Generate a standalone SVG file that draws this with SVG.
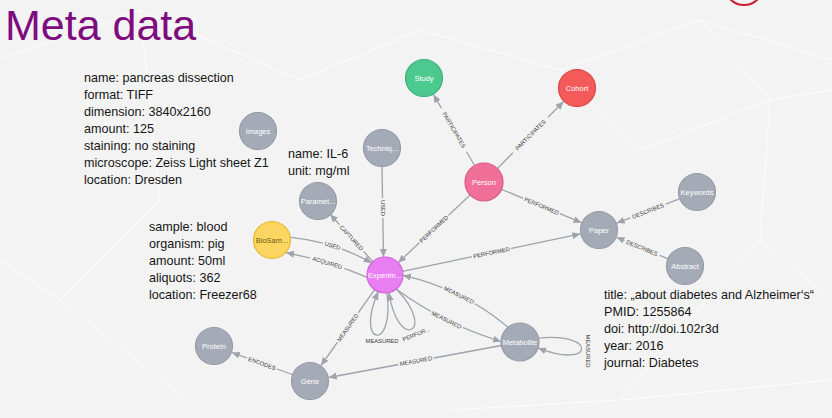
<svg xmlns="http://www.w3.org/2000/svg" width="832" height="418" viewBox="0 0 832 418">
<defs>
<marker id="arr" markerUnits="userSpaceOnUse" markerWidth="9" markerHeight="8" refX="8" refY="3.5" orient="auto">
<path d="M0,0 L8,3.5 L0,7 z" fill="#9EA3AC"/>
</marker>
<style>
.bg{fill:#F3F3F3}
.deco{stroke:#FFFFFF;stroke-width:1;opacity:0.8;fill:none}
.title{font-family:"Liberation Sans",Arial,sans-serif;font-size:43px;fill:#7E0C7E}
.info{font-family:"Liberation Sans",Arial,sans-serif;font-size:12.6px;fill:#151515}
.e{stroke:#9EA3AC;stroke-width:1.3;fill:none;marker-end:url(#arr)}
.lb{fill:#F3F3F3}
.el{font-family:"Liberation Sans",Arial,sans-serif;font-size:5.8px;fill:#3A3A3A;text-anchor:middle}
.n{fill:#A5ABB6;stroke:#959CA8;stroke-width:1.2}
.nt{font-family:"Liberation Sans",Arial,sans-serif;font-size:7.5px;fill:#FFFFFF;text-anchor:middle}
</style>
</defs>
<rect class="bg" x="0" y="0" width="832" height="418"/>
<g id="background">
<path class="deco" d="M0,60 L140,10 L300,80 L420,30 L560,70 L700,20 L832,60"/>
<path class="deco" d="M140,10 L160,200 L60,300 L0,260"/>
<path class="deco" d="M700,20 L770,100 L832,90 M770,100 L760,240 L832,300 M560,70 L640,150 L770,100"/>
<path class="deco" d="M60,300 L200,410 M620,400 L760,240 M450,410 L620,400 L832,380"/>
<circle cx="744" cy="-14" r="19" fill="none" stroke="#C8202E" stroke-width="2"/>
</g>
<text class="title" x="5" y="40">Meta data</text>
<g id="info-images">
<text class="info" x="84" y="82">name: pancreas dissection</text>
<text class="info" x="84" y="99">format: TIFF</text>
<text class="info" x="84" y="116">dimension: 3840x2160</text>
<text class="info" x="84" y="133">amount: 125</text>
<text class="info" x="84" y="150">staining: no staining</text>
<text class="info" x="84" y="167">microscope: Zeiss Light sheet Z1</text>
<text class="info" x="84" y="184">location: Dresden</text>
</g>
<g id="info-parameter">
<text class="info" x="288" y="158">name: IL-6</text>
<text class="info" x="288" y="175">unit: mg/ml</text>
</g>
<g id="info-biosample">
<text class="info" x="149" y="231">sample: blood</text>
<text class="info" x="149" y="248">organism: pig</text>
<text class="info" x="149" y="265">amount: 50ml</text>
<text class="info" x="149" y="282">aliquots: 362</text>
<text class="info" x="149" y="299">location: Freezer68</text>
</g>
<g id="info-paper">
<text class="info" x="604" y="299">title: „about diabetes and Alzheimer‘s“</text>
<text class="info" x="604" y="316">PMID: 1255864</text>
<text class="info" x="604" y="333">doi: http://doi.102r3d</text>
<text class="info" x="604" y="350">year: 2016</text>
<text class="info" x="604" y="367">journal: Diabetes</text>
</g>
<g id="connectors">
<line class="e" x1="474.5" y1="165.5" x2="433.5" y2="94.5"/>
<g transform="translate(454,130) rotate(60)"><rect class="lb" x="-25" y="-4" width="50" height="8"/><text class="el" y="2">PARTICIPATES</text></g>
<line class="e" x1="497.4" y1="168.5" x2="563.6" y2="101.5"/>
<g transform="translate(530.5,135) rotate(-45.3)"><rect class="lb" x="-25" y="-4" width="50" height="8"/><text class="el" y="2">PARTICIPATES</text></g>
<line class="e" x1="501.5" y1="189.3" x2="581.5" y2="222.7"/>
<g transform="translate(541.5,206) rotate(22.7)"><rect class="lb" x="-20" y="-4" width="40" height="8"/><text class="el" y="2">PERFORMED</text></g>
<line class="e" x1="470.1" y1="195" x2="398.1" y2="262.7"/>
<g transform="translate(434,229) rotate(-43.2)"><rect class="lb" x="-20" y="-4" width="40" height="8"/><text class="el" y="2">PERFORMED</text></g>
<line class="e" x1="382" y1="167" x2="383.5" y2="257"/>
<g transform="translate(382.5,208) rotate(90)"><rect class="lb" x="-10" y="-4" width="20" height="8"/><text class="el" y="2">USED</text></g>
<line class="e" x1="372.9" y1="261.7" x2="330.1" y2="214.3"/>
<g transform="translate(351.5,238) rotate(47.8)"><rect class="lb" x="-18" y="-4" width="36" height="8"/><text class="el" y="2">CAPTURED</text></g>
<path class="e" d="M290.8,237.4 Q334,241.5 371.7,262.9"/>
<g transform="translate(332.6,245.8) rotate(17)"><rect class="lb" x="-10" y="-4" width="20" height="8"/><text class="el" y="2">USED</text></g>
<path class="e" d="M367.2,277.4 Q328,260.5 286.1,252.8"/>
<g transform="translate(327.3,262.8) rotate(17)"><rect class="lb" x="-18" y="-4" width="36" height="8"/><text class="el" y="2">ACQUIRED</text></g>
<line class="e" x1="402.6" y1="271.3" x2="580.4" y2="233.9"/>
<g transform="translate(491.5,252.6) rotate(-11.9)"><rect class="lb" x="-20" y="-4" width="40" height="8"/><text class="el" y="2">PERFORMED</text></g>
<line class="e" x1="679.3" y1="198.9" x2="616.7" y2="223.1"/>
<g transform="translate(648,211) rotate(-21.2)"><rect class="lb" x="-19" y="-4" width="38" height="8"/><text class="el" y="2">DESCRIBES</text></g>
<line class="e" x1="667.5" y1="258.7" x2="616.5" y2="237.3"/>
<g transform="translate(642,248) rotate(22.7)"><rect class="lb" x="-19" y="-4" width="38" height="8"/><text class="el" y="2">DESCRIBES</text></g>
<path class="e" d="M508.1,327.2 Q462.3,288.8 403,275.4"/>
<g transform="translate(458.9,295) rotate(26.4)"><rect class="lb" x="-18" y="-4" width="36" height="8"/><text class="el" y="2">MEASURED</text></g>
<path class="e" d="M396.2,289.1 Q444.5,324.6 501,341.5"/>
<g transform="translate(446.5,320) rotate(26.4)"><rect class="lb" x="-18" y="-4" width="36" height="8"/><text class="el" y="2">MEASURED</text></g>
<path class="e" d="M386.9,292.9 C395.2,352.3 353.9,346.5 378.3,291.7"/>
<text class="el" x="382" y="343">MEASURED</text>
<path class="e" d="M396.3,289 C438,332.2 397.4,351.9 389.05,292.5"/>
<text class="el" transform="translate(417,336) rotate(-22)">PERFOR...</text>
<line class="e" x1="374.6" y1="289.7" x2="321" y2="365.5"/>
<g transform="translate(347.8,327.6) rotate(-54.7)"><rect class="lb" x="-18" y="-4" width="36" height="8"/><text class="el" y="2">MEASURED</text></g>
<line class="e" x1="501.3" y1="345.5" x2="328.7" y2="377.5"/>
<g transform="translate(416,361) rotate(-10.5)"><rect class="lb" x="-18" y="-4" width="36" height="8"/><text class="el" y="2">MEASURED</text></g>
<line class="e" x1="292.2" y1="374.5" x2="231.8" y2="352.5"/>
<g transform="translate(262,363.5) rotate(20)"><rect class="lb" x="-16" y="-4" width="32" height="8"/><text class="el" y="2">ENCODES</text></g>
<path class="e" d="M538.6,338.05 C598.3,331.8 593.7,370.4 538.1,347.9"/>
<text class="el" transform="translate(586,351) rotate(90)">MEASURED</text>
</g>
<g id="node-study"><circle cx="424" cy="78" r="18.5" fill="#4CC98E" stroke="#3BB07A" stroke-width="1.2"/><text class="nt" x="424" y="80.5">Study</text></g>
<g id="node-cohort"><circle cx="577" cy="88" r="18.5" fill="#F45A5A" stroke="#DC4545" stroke-width="1.2"/><text class="nt" x="577" y="90.5">Cohort</text></g>
<g id="node-person"><circle cx="484" cy="182" r="19" fill="#F1709A" stroke="#D85A83" stroke-width="1.2"/><text class="nt" x="484" y="184.5">Person</text></g>
<g id="node-techniq"><circle class="n" cx="382" cy="148" r="18.5"/><text class="nt" x="382" y="150.5">Techniq...</text></g>
<g id="node-images"><circle class="n" cx="258" cy="131" r="18.5"/><text class="nt" x="258" y="133.5">Images</text></g>
<g id="node-paramet"><circle class="n" cx="318" cy="201" r="18.5"/><text class="nt" x="318" y="203.5">Paramet...</text></g>
<g id="node-biosam"><circle cx="272" cy="240" r="18.5" fill="#FDD661" stroke="#E6B835" stroke-width="1.2"/><text class="nt" x="272" y="242.5" fill="#6E5A14" style="fill:#6E5A14">BioSam...</text></g>
<g id="node-experim"><circle cx="385" cy="275" r="18" fill="#E97EF2" stroke="#D066DA" stroke-width="1.2"/><text class="nt" x="385" y="277.5">Experim...</text></g>
<g id="node-paper"><circle class="n" cx="599" cy="230" r="18.5"/><text class="nt" x="599" y="232.5">Paper</text></g>
<g id="node-keywords"><circle class="n" cx="697" cy="192" r="18.5"/><text class="nt" x="697" y="194.5">Keywords</text></g>
<g id="node-abstract"><circle class="n" cx="685" cy="266" r="18.5"/><text class="nt" x="685" y="268.5">Abstract</text></g>
<g id="node-metabolite"><circle class="n" cx="520" cy="342" r="19"/><text class="nt" x="520" y="344.5">Metabolite</text></g>
<g id="node-gene"><circle class="n" cx="310" cy="381" r="18.5"/><text class="nt" x="310" y="383.5">Gene</text></g>
<g id="node-protein"><circle class="n" cx="214" cy="346" r="18.5"/><text class="nt" x="214" y="348.5">Protein</text></g>
</svg>
